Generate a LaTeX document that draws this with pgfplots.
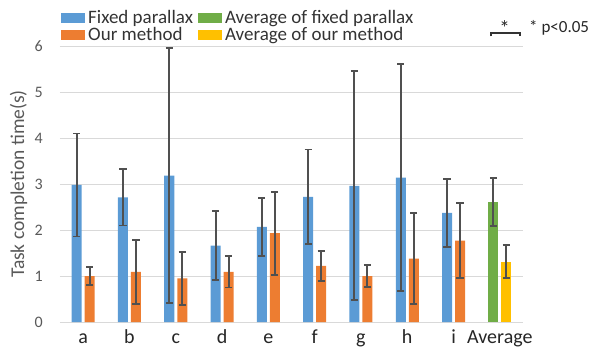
\documentclass[border=0pt]{standalone}
\usepackage{pgfplots}
\pgfplotsset{compat=1.18}
\usepackage{pgfplotstable}
\usepackage{fontspec}
\setmainfont{Carlito}
\definecolor{cblue}{HTML}{5B9BD5}
\definecolor{corange}{HTML}{ED7D31}
\definecolor{cgreen}{HTML}{70AD47}
\definecolor{cyellow}{HTML}{FFC000}
\definecolor{gridc}{HTML}{D9D9D9}
\definecolor{tickc}{HTML}{595959}
\definecolor{errc}{HTML}{505050}
\definecolor{labc}{HTML}{262626}
\definecolor{legc}{HTML}{333333}

\pgfplotstableread{
x y e
0 2.98 1.12
1 2.71 0.61
2 3.18 2.77
3 1.66 0.75
4 2.07 0.63
5 2.72 1.03
6 2.96 2.49
7 3.14 2.47
8 2.37 0.74
}\fixedtab
\pgfplotstableread{
x y e
0 1.00 0.19
1 1.09 0.70
2 0.95 0.58
3 1.09 0.34
4 1.93 0.90
5 1.22 0.32
6 1.00 0.24
7 1.38 0.99
8 1.77 0.82
}\ourtab
\pgfplotstableread{
x y e
9 2.61 0.52
}\avgfixedtab
\pgfplotstableread{
x y e
9 1.31 0.36
}\avgourtab

\pgfplotsset{
  every error bar/.style={draw=errc, line width=2bp},
  mybar/.style={ybar, bar width=10bp, bar shift=0pt, draw=none,
    error bars/y dir=both, error bars/y explicit,
    error bars/error mark options={draw=errc, line width=1.8bp, rotate=90, mark size=3.6bp}},
}

\begin{document}
\begin{tikzpicture}
\begin{axis}[
  scale only axis, width=463bp, height=276bp,
  xmin=-0.5, xmax=9.5, ymin=0, ymax=6,
  xtick={0,...,9}, xticklabels={a,b,c,d,e,f,g,h,i,Average},
  ytick={0,...,6},
  /pgf/number format/assume math mode=true,
  ymajorgrids, grid style={draw=gridc, line width=1bp},
  axis line style={draw=none}, tick style={draw=none},
  yticklabel style={font=\fontsize{16bp}{19bp}\selectfont, text=tickc, inner sep=0pt, xshift=-17bp},
  xticklabel style={font=\fontsize{20bp}{23bp}\selectfont, text=labc, inner sep=0pt, text height=14bp, text depth=4bp, yshift=-7bp},
  ylabel={Task completion time(s)},
  every axis y label/.style={at={(axis description cs:-0.0896,0.5)}, rotate=90, anchor=center, font=\fontsize{19.5bp}{23bp}\selectfont, text=tickc},
  legend columns=2,
  legend cell align=left,
  legend style={at={(axis description cs:0.0022,1.1257)}, anchor=north west, draw=none, fill=none, inner sep=0pt,
    font=\fontsize{19bp}{22bp}\selectfont, text=legc,
    nodes={inner sep=0pt, text height=12bp, text depth=4bp},
    row sep=1.4bp,
    /tikz/every odd column/.append style={column sep=3bp},
    /tikz/every even column/.append style={column sep=5bp}},
  legend image code/.code={\fill[#1,draw=none] (0bp,-3bp) rectangle (24bp,7bp);},
]
\addplot[mybar, fill=cblue] table[x expr=\thisrow{x}-0.1404, y=y, y error=e]{\fixedtab};
\addlegendentry{Fixed parallax}
\addplot[mybar, fill=cgreen] table[x expr=\thisrow{x}-0.1404, y=y, y error=e]{\avgfixedtab};
\addlegendentry{Average of fixed parallax}
\addplot[mybar, fill=corange] table[x expr=\thisrow{x}+0.1404, y=y, y error=e]{\ourtab};
\addlegendentry{Our method}
\addplot[mybar, fill=cyellow] table[x expr=\thisrow{x}+0.1404, y=y, y error=e]{\avgourtab};
\addlegendentry{Average of our method}
\end{axis}
\draw[black!80, line width=1.8bp] (430.7bp,285.5bp) -- (430.7bp,289bp) -- (460bp,289bp) -- (460bp,285.5bp);
\node[font=\fontsize{21bp}{23bp}\selectfont, text=black!85, inner sep=0pt] at (444.5bp,294bp) {*};
\node[font=\fontsize{17bp}{20bp}\selectfont, text=labc, inner sep=0pt, anchor=west] at (469bp,294bp) {* p<0.05};
\pgfresetboundingbox
\path (-60bp,-25bp) rectangle (530bp,322bp);
\end{tikzpicture}
\end{document}
